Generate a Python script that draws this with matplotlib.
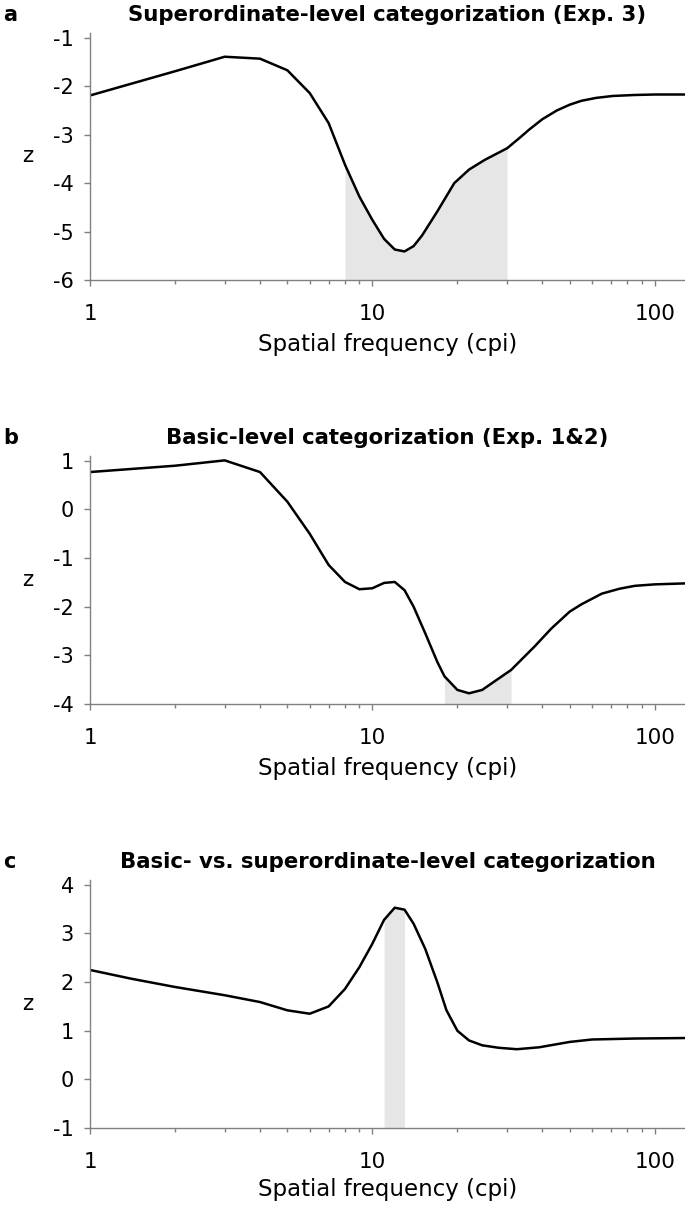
import numpy as np
import matplotlib
matplotlib.use("Agg")
import matplotlib.pyplot as plt
from matplotlib.ticker import FixedLocator, NullFormatter

plt.rcParams['font.family'] = ['DejaVu Sans']

# Panel a: superordinate-level categorization
freqA = [1, 2, 3, 4, 5, 6, 7, 8, 9, 10, 11, 12, 13, 14, 15, 17, 19.5, 22, 25, 30,
         33, 36, 40, 45, 50, 55, 62, 71, 85, 100, 128]
zA = [-2.19, -1.69, -1.39, -1.43, -1.67, -2.14, -2.76, -3.62, -4.28, -4.76, -5.15,
      -5.37, -5.41, -5.30, -5.08, -4.58, -4.00, -3.72, -3.52, -3.28,
      -3.08, -2.89, -2.68, -2.50, -2.38, -2.30, -2.24, -2.20, -2.18, -2.17, -2.17]
shadeA = (8, 30)

# Panel b: basic-level categorization
freqB = [1, 2, 3, 4, 5, 6, 7, 8, 9, 10, 11, 12, 13, 14, 15.4, 17, 18, 20, 22, 24.5,
         27, 31, 37.5, 43, 50, 55, 65, 75, 85, 100, 128]
zB = [0.77, 0.90, 1.01, 0.77, 0.16, -0.50, -1.14, -1.49, -1.64, -1.62, -1.51, -1.49,
      -1.66, -2.00, -2.55, -3.14, -3.43, -3.71, -3.78, -3.71,
      -3.54, -3.30, -2.82, -2.45, -2.10, -1.95, -1.73, -1.63, -1.57, -1.54, -1.52]
shadeB = (18, 31)

# Panel c: basic vs superordinate
freqC = [1, 1.4, 2, 3, 4, 5, 6, 7, 8, 9, 10, 11, 12, 13, 14, 15.4, 17, 18.3, 20, 22,
         24.5, 28, 32.5, 39, 50, 60, 85, 128]
zC = [2.25, 2.07, 1.90, 1.73, 1.59, 1.42, 1.35, 1.50, 1.86, 2.31, 2.79, 3.28, 3.53,
      3.49, 3.20, 2.68, 1.99, 1.42, 1.00, 0.80,
      0.70, 0.65, 0.62, 0.66, 0.77, 0.82, 0.84, 0.85]
shadeC = (11, 13)

titles = ["Superordinate-level categorization (Exp. 3)",
          "Basic-level categorization (Exp. 1&2)",
          "Basic- vs. superordinate-level categorization"]
letters = ["a", "b", "c"]
yticksList = [[-6, -5, -4, -3, -2, -1], [-4, -3, -2, -1, 0, 1], [-1, 0, 1, 2, 3, 4]]
ylims = [(-6, -0.9), (-4, 1.1), (-1, 4.1)]

W, H = 685, 1211
GRAY = "#808080"


def drawPanel(ax, freq, z, shade, title, yticks, ylim, labelpad):
    freq = np.array(freq)
    z = np.array(z)
    mask = (freq >= shade[0]) & (freq <= shade[1])
    ax.fill_between(freq, ylim[0], z, where=mask, color="#e6e6e6", linewidth=0)
    ax.plot(freq, z, color="black", linewidth=1.8)

    ax.set_xscale("log")
    ax.set_xlim(1, 128)
    ax.set_ylim(*ylim)
    ax.set_xticks([1, 10, 100])
    ax.set_xticklabels(["1", "10", "100"])
    minors = [m * d for d in (1, 10) for m in range(2, 10)]
    ax.xaxis.set_minor_locator(FixedLocator(minors))
    ax.xaxis.set_minor_formatter(NullFormatter())
    ax.set_yticks(yticks)
    ax.set_yticklabels([str(t) for t in yticks])

    for s in ["top", "right"]:
        ax.spines[s].set_visible(False)
    for s in ["left", "bottom"]:
        ax.spines[s].set_color(GRAY)
        ax.spines[s].set_linewidth(1.0)

    ax.tick_params(axis="x", which="major", direction="out", length=4.5, width=1,
                   color=GRAY, labelsize=15.5, pad=12.5)
    ax.tick_params(axis="x", which="minor", direction="out", length=3, width=1,
                   color=GRAY)
    ax.tick_params(axis="y", which="major", direction="out", length=4.5, width=1,
                   color=GRAY, labelsize=15, pad=7)

    ax.set_xlabel("Spatial frequency (cpi)", fontsize=16.5, labelpad=labelpad)
    ax.set_ylabel("z", fontsize=15.5, rotation=0, va="center", ha="center")
    ax.yaxis.set_label_coords(-0.104, 0.5)
    ax.set_title(title, fontsize=15.3, fontweight="bold", pad=8.5)


def main():
    fig = plt.figure(figsize=(W / 100, H / 100), dpi=100)
    # axes boxes in pixels: (top, bottom)
    boxes = [(33, 280), (456, 704), (880, 1128)]
    labelpads = [7, 7, 4.5]
    left = 90
    data = [(freqA, zA, shadeA), (freqB, zB, shadeB), (freqC, zC, shadeC)]
    for i in range(3):
        top, bottom = boxes[i]
        ax = fig.add_axes([left / W, 1 - bottom / H, (W - left) / W, (bottom - top) / H])
        freq, z, shade = data[i]
        drawPanel(ax, freq, z, shade, titles[i], yticksList[i], ylims[i], labelpads[i])
        fig.text(3 / W, 1 - (top - 12) / H, letters[i], fontsize=15, fontweight="bold",
                 va="baseline", ha="left")
    fig.savefig("out.png", dpi=100)


if __name__ == '__main__':
    main()
